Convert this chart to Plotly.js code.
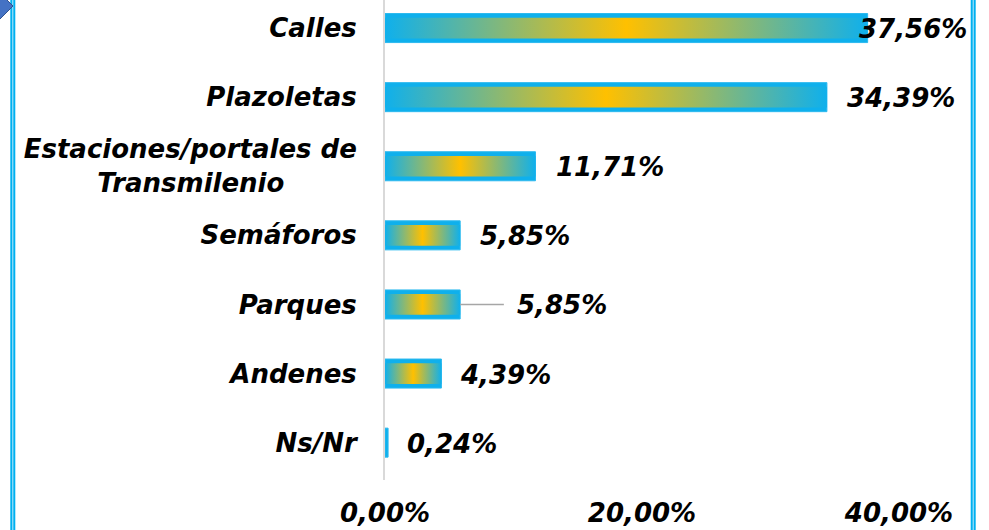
<!DOCTYPE html>
<html>
<head>
<meta charset="utf-8">
<script src="https://cdn.plot.ly/plotly-3.0.1.min.js"></script>
<style>
  html, body { margin: 0; padding: 0; background: #ffffff; overflow: hidden; }
  #chart { width: 989px; height: 530px; }
</style>
</head>
<body>
<div id="chart"></div>
<script>
// ---- data ----
const categories = ['Calles', 'Plazoletas', 'Estaciones/portales de<br>Transmilenio' + '\u00a0'.repeat(8), 'Semáforos', 'Parques', 'Andenes', 'Ns/Nr'];
const values = [37.56, 34.39, 11.71, 5.85, 5.85, 4.39, 0.24];
const valueLabels = ['37,56%', '34,39%', '11,71%', '5,85%', '5,85%', '4,39%', '0,24%'];
const xTickVals = [0, 20, 40];
const xTickText = ['0,00%', '20,00%', '40,00%'];

// ---- presentation (offsets, not data) ----
const labelShift = [-11, 18, 19, 18, 55, 17, 17];
const leaderIndex = 4;
const leaderLen = 3.4;

const idx = categories.map((c, i) => i);
const FONT = 'DejaVu Sans';
const FSIZE = 26;
const BLUE = '#0FB0EC';
const YELLOW = '#FFC000';

const L = 385, R = 39, T = 0, B = 50, W = 989, H = 530;
const PW = W - L - R, PH = H - T - B;
const px2x = p => (p - L) / PW;
const py2y = p => (H - B - p) / PH;

const traces = [
  {
    type: 'bar', orientation: 'h', x: values, y: idx, width: 0.42,
    marker: { color: BLUE, line: { color: '#2CB9EF', width: 1 } },
    hoverinfo: 'skip'
  },
  {
    type: 'bar', orientation: 'h', x: values, y: idx, width: 0.30,
    marker: { color: YELLOW, line: { width: 0 }, opacity: values.map(v => (v < 1 ? 0 : 1)) },
    hoverinfo: 'skip'
  }
];

const fnt = { family: FONT, size: FSIZE, color: '#000000', weight: 'bold', style: 'italic' };

const annotations = values.map((v, i) => ({
  x: v, y: i, xref: 'x', yref: 'y', xanchor: 'left', yanchor: 'middle',
  xshift: labelShift[i], yshift: -1, showarrow: false, text: valueLabels[i],
  font: fnt
}));

const shapes = [
  { type: 'line', xref: 'x', yref: 'y', x0: values[leaderIndex], x1: values[leaderIndex] + leaderLen,
    y0: leaderIndex, y1: leaderIndex, line: { color: '#A6A6A6', width: 1.5 } },
  // frame lines
  { type: 'line', xref: 'paper', yref: 'paper', x0: px2x(12.8), x1: px2x(12.8), y0: -0.2, y1: 1.1, line: { color: '#00B0F0', width: 5 } },
  { type: 'line', xref: 'paper', yref: 'paper', x0: px2x(12.8), x1: px2x(12.8), y0: -0.2, y1: 1.1, line: { color: '#BFEAFB', width: 1 } },
  { type: 'line', xref: 'paper', yref: 'paper', x0: px2x(973.2), x1: px2x(973.2), y0: -0.2, y1: 1.1, line: { color: '#00B0F0', width: 5 } },
  { type: 'line', xref: 'paper', yref: 'paper', x0: px2x(973.2), x1: px2x(973.2), y0: -0.2, y1: 1.1, line: { color: '#BFEAFB', width: 1 } },
  // corner diamond
  { type: 'path', xref: 'paper', yref: 'paper',
    path: `M ${px2x(-15)},${py2y(6)} L ${px2x(-1)},${py2y(-8)} L ${px2x(13)},${py2y(6)} L ${px2x(-1)},${py2y(20)} Z`,
    fillcolor: '#4472C4', line: { color: '#2F528F', width: 1 } }
];

const layout = {
  width: W, height: H,
  margin: { l: L, r: R, t: T, b: B, pad: 0 },
  paper_bgcolor: '#ffffff', plot_bgcolor: '#ffffff',
  barmode: 'overlay', showlegend: false,
  xaxis: {
    range: [0, PW / 12.85], tickvals: xTickVals, ticktext: xTickText,
    showgrid: false, zeroline: false, showline: false, ticks: '',
    ticklabelstandoff: 15,
    tickfont: fnt
  },
  yaxis: {
    range: [-0.406 + PH / 69.1, -0.406], tickvals: idx, ticktext: categories,
    showgrid: false, zeroline: false, showline: true, linecolor: '#D9D9D9', linewidth: 2,
    ticks: '', ticklabelstandoff: 21,
    tickfont: fnt
  },
  annotations: annotations,
  shapes: shapes
};

Plotly.newPlot('chart', traces, layout, { staticPlot: true, displayModeBar: false }).then(gd => {
  const NS = 'http://www.w3.org/2000/svg';
  const svg = gd.querySelector('.main-svg');
  let defs = svg.querySelector('defs');
  if (!defs) { defs = document.createElementNS(NS, 'defs'); svg.insertBefore(defs, svg.firstChild); }
  const g = document.createElementNS(NS, 'linearGradient');
  g.setAttribute('id', 'barGrad');
  g.setAttribute('x1', '0'); g.setAttribute('y1', '0'); g.setAttribute('x2', '1'); g.setAttribute('y2', '0');
  [[0, BLUE], [0.5, YELLOW], [1, BLUE]].forEach(([o, c]) => {
    const s = document.createElementNS(NS, 'stop');
    s.setAttribute('offset', o); s.setAttribute('stop-color', c);
    g.appendChild(s);
  });
  defs.appendChild(g);
  const tr = gd.querySelectorAll('.barlayer .trace');
  if (tr[1]) tr[1].querySelectorAll('path').forEach(p => { p.style.fill = 'url(#barGrad)'; });
});
</script>
</body>
</html>
